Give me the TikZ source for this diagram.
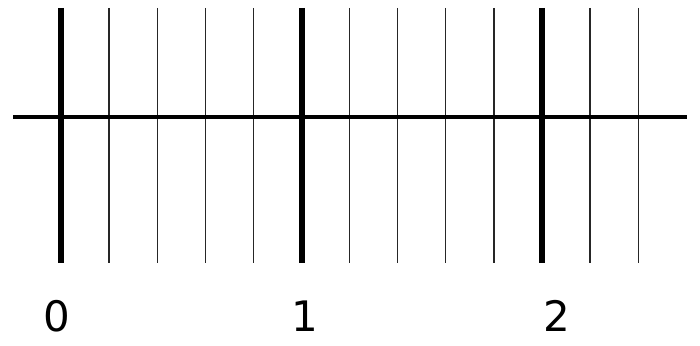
\documentclass[tikz,border=0pt]{standalone}
\usepackage{fontspec}
\newfontfamily\ticklabelfont{DejaVu Sans}
\usetikzlibrary{positioning}
\tikzset{
  major tick/.style={line width=6pt},
  minor tick/.style={line width=1.3pt,black!85},
  axis line/.style={line width=3.6pt},
  tick label/.style={font=\ticklabelfont\fontsize{42}{42}\selectfont,inner sep=0pt}
}

\begin{document}
\begin{tikzpicture}[x=1pt,y=1pt]
\useasboundingbox (0,0) rectangle (700,345);
% ticks: every fifth one is a whole number
\foreach \i in {0,...,12}{
  \coordinate (top\i) at ({61+48.1*\i},337);
  \coordinate (bot\i) at ({61+48.1*\i},82);
}
\foreach \i in {1,2,3,4,6,7,8,9,11,12}
  \draw[minor tick] (top\i) -- (bot\i);
\foreach \i in {0,5,10}
  \draw[major tick] (top\i) -- (bot\i);
% the axis
\coordinate (axisL) at (13,228);
\coordinate (axisR) at (687,228);
\draw[axis line] (axisL) -- (axisR);
% labels
\node[tick label] (lbl0) at (57,29) {0};
\node[tick label] (lbl1) at (305,29) {1};
\node[tick label] (lbl2) at (557,29) {2};
\end{tikzpicture}
\end{document}
